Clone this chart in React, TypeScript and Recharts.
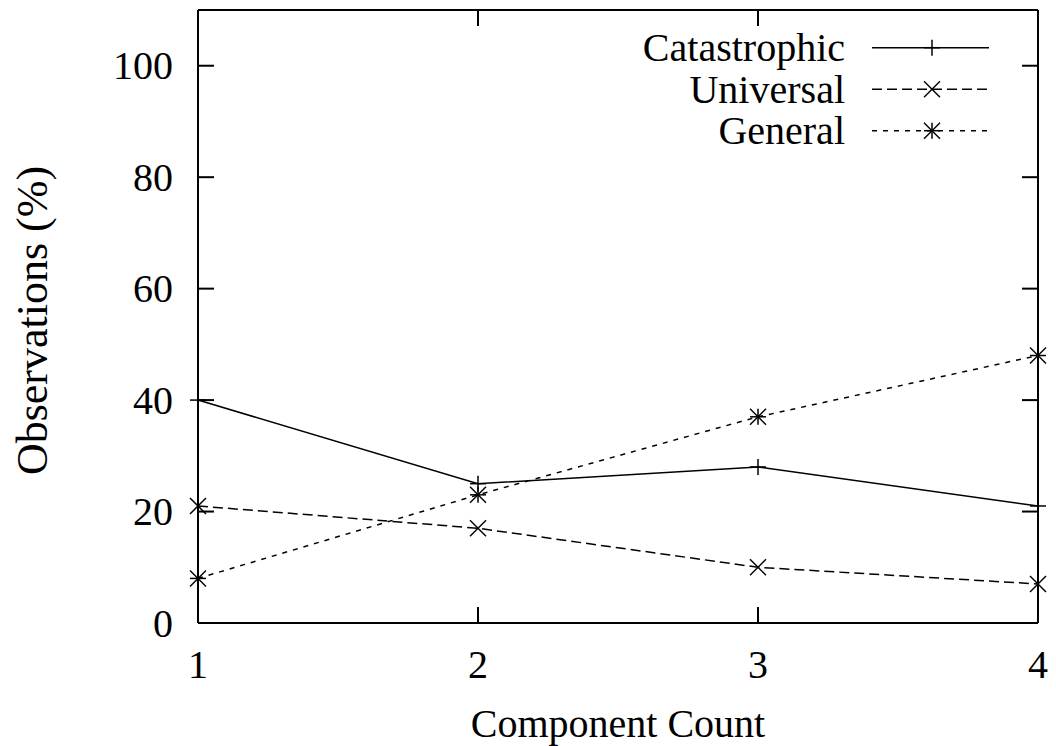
import React from 'react';
import { LineChart, Line, XAxis, YAxis, Legend } from 'recharts';

const componentCounts = [1, 2, 3, 4];
const catastrophic = [40, 25, 28, 21];
const universal = [21, 17, 10, 7];
const general = [8, 23, 37, 48];
const xTicks = [1, 2, 3, 4];
const yTicks = [0, 20, 40, 60, 80, 100];

const data = componentCounts.map((c, i) => ({
  count: c,
  catastrophic: catastrophic[i],
  universal: universal[i],
  general: general[i],
}));

const FONT = "'Liberation Serif', 'Times New Roman', Times, serif";
const FS = 40;
const TICK = 16;
const textStyle: React.CSSProperties = { fontFamily: FONT, fontSize: FS };

type MarkerKind = 'plus' | 'cross' | 'star';

const SERIES: { key: string; name: string; dash?: string; marker: MarkerKind }[] = [
  { key: 'catastrophic', name: 'Catastrophic', marker: 'plus' },
  { key: 'universal', name: 'Universal', dash: '10 5', marker: 'cross' },
  { key: 'general', name: 'General', dash: '5 6', marker: 'star' },
];

const Marker = ({ cx, cy, kind }: { cx: number; cy: number; kind: MarkerKind }) => {
  const s = 8;
  const plus = (
    <>
      <line x1={cx - s} y1={cy} x2={cx + s} y2={cy} />
      <line x1={cx} y1={cy - s} x2={cx} y2={cy + s} />
    </>
  );
  const cross = (
    <>
      <line x1={cx - s} y1={cy - s} x2={cx + s} y2={cy + s} />
      <line x1={cx - s} y1={cy + s} x2={cx + s} y2={cy - s} />
    </>
  );
  return (
    <g stroke="#000" strokeWidth={1.5} fill="none">
      {kind !== 'cross' && plus}
      {kind !== 'plus' && cross}
    </g>
  );
};

const LeftTick = (p: any) => (
  <g>
    <line x1={p.x} y1={p.y} x2={p.x + TICK} y2={p.y} stroke="#000" strokeWidth={2} />
    <text x={p.x - 25} y={p.y} textAnchor="end" dominantBaseline="central" style={textStyle} fill="#000">
      {p.payload.value}
    </text>
  </g>
);
const RightTick = (p: any) => (
  <line x1={p.x} y1={p.y} x2={p.x - TICK} y2={p.y} stroke="#000" strokeWidth={2} />
);
const BottomTick = (p: any) => (
  <g>
    <line x1={p.x} y1={p.y} x2={p.x} y2={p.y - TICK} stroke="#000" strokeWidth={2} />
    <text x={p.x} y={p.y + 41} textAnchor="middle" dominantBaseline="central" style={textStyle} fill="#000">
      {p.payload.value}
    </text>
  </g>
);
const TopTick = (p: any) => (
  <line x1={p.x} y1={p.y} x2={p.x} y2={p.y + TICK} stroke="#000" strokeWidth={2} />
);

const LegendContent = () => (
  <svg width={420} height={130} style={{ display: 'block' }}>
    {SERIES.map((s, i) => {
      const y = 21.7 + 41.5 * i;
      return (
        <g key={s.key}>
          <text x={245} y={y} textAnchor="end" dominantBaseline="central" style={textStyle} fill="#000">
            {s.name}
          </text>
          <line x1={272} y1={y} x2={389} y2={y} stroke="#000" strokeWidth={1.5} strokeDasharray={s.dash} />
          <Marker cx={332} cy={y} kind={s.marker} />
        </g>
      );
    })}
  </svg>
);

const axisLine = { stroke: '#000', strokeWidth: 2 };

export default function App() {
  return (
    <div style={{ position: 'absolute', left: 0, top: 0, background: '#fff' }}>
      <LineChart width={1056} height={746} data={data} margin={{ top: 9, right: 17, bottom: 0, left: 0 }}>
        <XAxis
          dataKey="count"
          type="number"
          domain={[1, 4]}
          ticks={xTicks}
          height={123}
          axisLine={axisLine}
          tickLine={false}
          tickSize={0}
          tickMargin={0}
          tick={BottomTick}
          interval={0}
          label={{
            content: (p: any) => (
              <text
                x={p.viewBox.x + p.viewBox.width / 2}
                y={p.viewBox.y + 114}
                textAnchor="middle"
                style={textStyle}
                fill="#000"
              >
                Component Count
              </text>
            ),
          }}
        />
        <XAxis
          xAxisId="top"
          orientation="top"
          dataKey="count"
          type="number"
          domain={[1, 4]}
          ticks={xTicks}
          height={1}
          axisLine={axisLine}
          tickLine={false}
          tickSize={0}
          tickMargin={0}
          tick={TopTick}
          interval={0}
        />
        <YAxis
          type="number"
          domain={[0, 110]}
          ticks={yTicks}
          width={198}
          axisLine={axisLine}
          tickLine={false}
          tickSize={0}
          tickMargin={0}
          tick={LeftTick}
          interval={0}
          allowDataOverflow
          label={{
            content: (p: any) => {
              const cx = p.viewBox.x + 32;
              const cy = p.viewBox.y + p.viewBox.height / 2 + 4;
              return (
                <text
                  x={cx}
                  y={cy}
                  transform={`rotate(-90 ${cx} ${cy})`}
                  textAnchor="middle"
                  dominantBaseline="central"
                  style={{ fontFamily: FONT, fontSize: 44 }}
                  fill="#000"
                >
                  Observations (%)
                </text>
              );
            },
          }}
        />
        <YAxis
          yAxisId="right"
          orientation="right"
          type="number"
          domain={[0, 110]}
          ticks={yTicks}
          width={1}
          axisLine={axisLine}
          tickLine={false}
          tickSize={0}
          tickMargin={0}
          tick={RightTick}
          interval={0}
          allowDataOverflow
        />
        <Legend
          layout="vertical"
          align="center"
          verticalAlign="middle"
          wrapperStyle={{ left: 600, top: 26, width: 420, height: 130 }}
          content={LegendContent}
        />
        {SERIES.map((s) => (
          <Line
            key={s.key}
            dataKey={s.key}
            name={s.name}
            type="linear"
            stroke="#000"
            strokeWidth={1.5}
            strokeDasharray={s.dash}
            isAnimationActive={false}
            dot={(p: any) => <Marker key={`${s.key}-${p.index}`} cx={p.cx} cy={p.cy} kind={s.marker} />}
            activeDot={false}
          />
        ))}
      </LineChart>
    </div>
  );
}
